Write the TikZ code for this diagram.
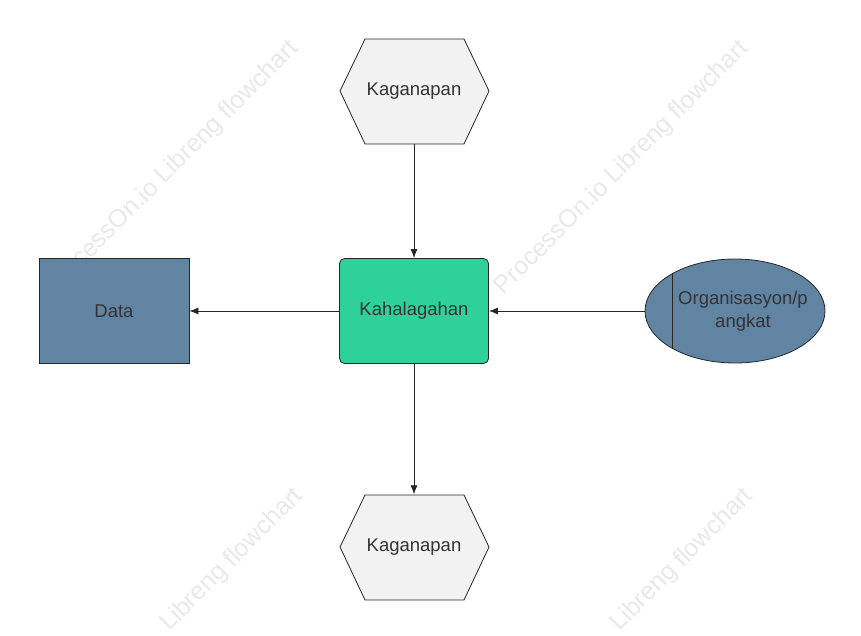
\documentclass[tikz,border=0pt]{standalone}
\usepackage{fontspec}
\setmainfont{Liberation Sans}
\usetikzlibrary{arrows.meta}
\begin{document}
\begin{tikzpicture}[x=1pt,y=-1pt,
  lbl/.style={font=\fontsize{18.5}{23}\selectfont,text=black!80},
  box/.style={draw=black!85,line width=0.8pt},
  arr/.style={draw=black!85,line width=0.8pt,-{Latex[length=9pt,width=7pt]}},
  wm/.style={font=\fontsize{25}{30}\selectfont,text=black!9,rotate=45}]
\useasboundingbox (0,0) rectangle (861,636);
\node[wm] at (172,168) {ProcessOn.io Libreng flowchart};
\node[wm] at (622,168) {ProcessOn.io Libreng flowchart};
\node[wm] at (232,560) {Libreng flowchart};
\node[wm] at (682,560) {Libreng flowchart};
\fill[box,fill=black!5] (340,91)--(365,39)--(464,39)--(489,91)--(464,144)--(365,144)--cycle;
\node[lbl,minimum width=149pt,minimum height=105pt] (top) at (414,91) {Kaganapan};
\fill[box,fill=black!5] (340,547)--(365,495)--(464,495)--(489,547)--(464,600)--(365,600)--cycle;
\node[lbl,minimum width=149pt,minimum height=105pt] (bot) at (414,547) {Kaganapan};
\node[box,lbl,fill={rgb,255:red,46;green,209;blue,154},rounded corners=5pt,minimum width=149pt,minimum height=105pt] (mid) at (414,311) {Kahalagahan};
\node[box,lbl,fill={rgb,255:red,98;green,132;blue,163},minimum width=150pt,minimum height=105pt] (data) at (114,311) {Data};
\filldraw[box,fill={rgb,255:red,98;green,132;blue,163}] (735,311) ellipse [x radius=90, y radius=52];
\draw[box] (672,274)--(672,348);
\node[lbl,align=center,inner sep=0pt] (org) at (743,311) {Organisasyon/p\\angkat};
\coordinate (orgw) at (645,311);
\draw[arr] (top) -- (mid);
\draw[arr] (mid) -- (bot);
\draw[arr] (mid) -- (data);
\draw[arr] (orgw) -- (mid);
\end{tikzpicture}
\end{document}
